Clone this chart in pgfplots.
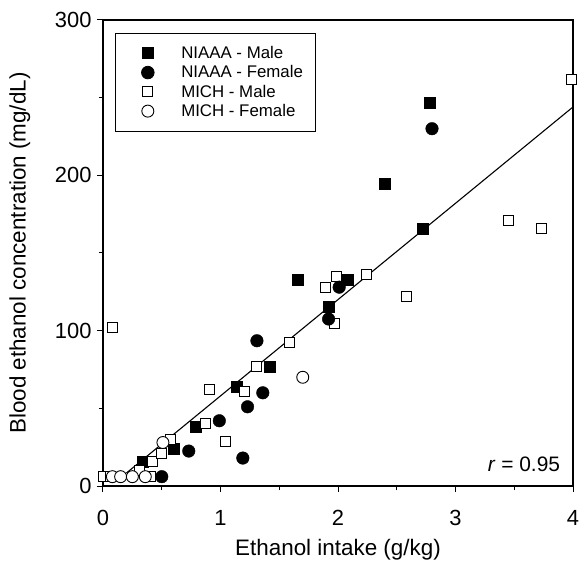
\documentclass[border=0pt]{standalone}
\usepackage{pgfplots}
\pgfplotsset{compat=1.18}
\usepackage{fontspec}
\setmainfont{Liberation Sans}
\begin{document}
\begin{tikzpicture}
\path[use as bounding box] (-103bp,-82bp) rectangle (477bp,486bp);
\begin{axis}[
    scale only axis,
    width=470bp, height=466bp,
    xmin=0, xmax=4, ymin=0, ymax=300,
    xtick={0,1,2,3,4}, ytick={0,100,200,300},
    minor x tick num=1, minor y tick num=1,
    xtick pos=left, ytick pos=left,
    tick align=outside,
    major tick length=6bp, minor tick length=4bp,
    axis line style={line width=1.1bp},
    tick style={line width=1bp, black},
    /pgf/number format/assume math mode=true,
    ticklabel style={font=\fontsize{22}{26}\selectfont},
    xticklabel style={yshift=-15bp},
    yticklabel style={xshift=-2bp},
    label style={font=\fontsize{22.5}{27}\selectfont},
    xlabel={Ethanol intake (g/kg)},
    ylabel={Blood ethanol concentration (mg/dL)},
    xlabel style={at={(axis description cs:0.5,-0.137)}, anchor=center},
    ylabel style={at={(axis description cs:-0.177,0.5)}, anchor=center},
    clip=false,
    legend cell align=left,
    legend image code/.code={
        \path (0bp,0bp) (53bp,0bp);
        \draw[#1] plot coordinates {(22bp,0bp)};
    },
    legend style={
        at={(axis description cs:0.0255,0.972)}, anchor=north west,
        font=\fontsize{16.9}{20}\selectfont,
        draw=black, line width=0.8bp,
        inner xsep=10bp, inner ysep=11bp,
        row sep=1.6bp},
]
% legend entries first, so that the data can be drawn in the order of the picture
\addlegendimage{only marks, mark=square*, mark size=5.5bp, black}
\addlegendentry{NIAAA - Male}
\addlegendimage{only marks, mark=*, mark size=6.3bp, black}
\addlegendentry{NIAAA - Female}
\addlegendimage{only marks, mark=square*, mark size=5bp, draw=black, fill=white, line width=0.9bp}
\addlegendentry{MICH - Male}
\addlegendimage{only marks, mark=*, mark size=6bp, draw=black, fill=white, line width=0.9bp}
\addlegendentry{MICH - Female}

% regression line
\addplot[black, line width=1.1bp, forget plot] coordinates {(0.2,8.4) (4,244)};

% NIAAA - Male
\addplot[only marks, mark=square*, mark size=5.5bp, black, forget plot] coordinates {
    (0.34,15.5) (0.60,24) (0.79,38) (1.14,64) (1.42,77) (1.66,133)
    (1.92,115.5) (2.08,132.5) (2.40,194.5) (2.72,165.5) (2.78,247)
};
% MICH - Male
\addplot[only marks, mark=square*, mark size=5bp, draw=black, fill=white, line width=0.9bp, forget plot] coordinates {
    (0.00,6) (0.06,6) (0.08,102) (0.31,10) (0.40,6) (0.42,15.5) (0.50,21)
    (0.57,30) (0.87,40) (0.91,62) (1.04,29) (1.20,61) (1.31,77) (1.59,92.5)
    (1.89,128) (1.97,104.5) (1.99,135) (2.24,136.5) (2.58,122) (3.45,171)
    (3.73,166) (3.99,262)
};
% NIAAA - Female
\addplot[only marks, mark=*, mark size=6.3bp, black, forget plot] coordinates {
    (0.50,6) (0.73,22.5) (0.99,42) (1.19,18) (1.23,51) (1.31,93.5)
    (1.36,60) (1.92,107.5) (2.01,128) (2.80,230)
};
% MICH - Female
\addplot[only marks, mark=*, mark size=6bp, draw=black, fill=white, line width=0.9bp, forget plot] coordinates {
    (0.08,6) (0.15,6) (0.25,6) (0.36,6) (0.51,28) (1.70,70)
};

\node[anchor=east, font=\fontsize{21}{25}\selectfont] at (axis cs:3.92,14) {\textit{r} = 0.95};
\end{axis}
\end{tikzpicture}
\end{document}
